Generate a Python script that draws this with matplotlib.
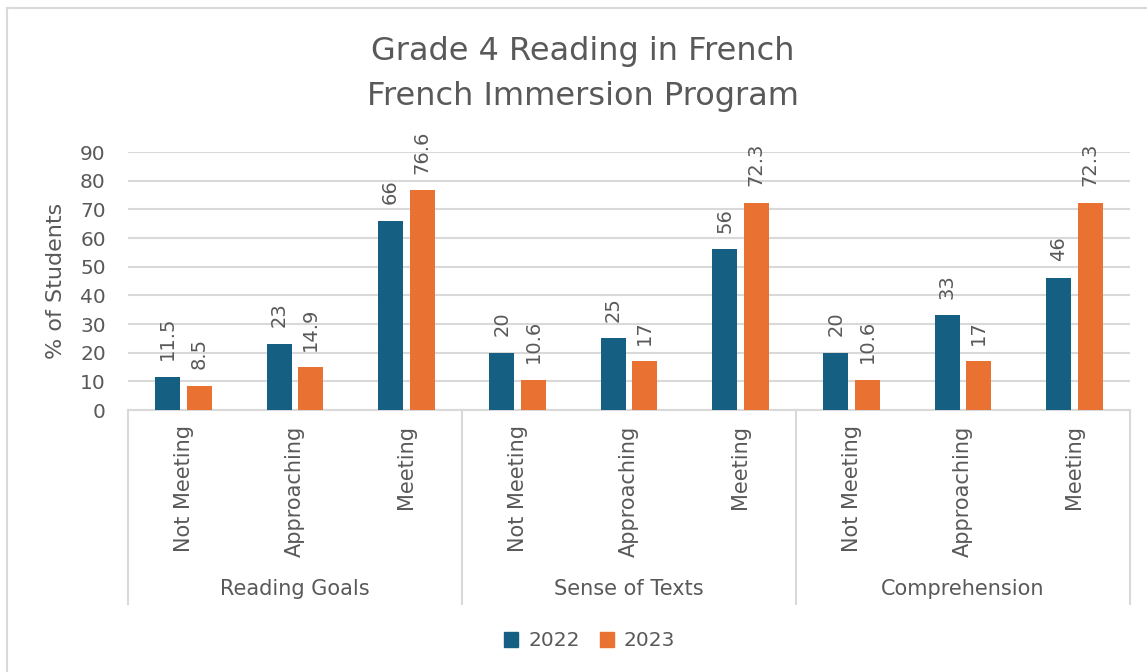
import matplotlib.pyplot as plt
from matplotlib.patches import Patch
from matplotlib.lines import Line2D
import numpy as np

# Data
groups = ['Reading Goals', 'Sense of Texts', 'Comprehension']
levels = ['Not Meeting', 'Approaching', 'Meeting']
years = ['2022', '2023']
vals_2022 = [11.5, 23, 66, 20, 25, 56, 20, 33, 46]
vals_2023 = [8.5, 14.9, 76.6, 10.6, 17, 72.3, 10.6, 17, 72.3]
yticks = [0, 10, 20, 30, 40, 50, 60, 70, 80, 90]

blue = '#156082'
orange = '#E97132'
txt = '#595959'
grid = '#D9D9D9'

plt.rcParams['font.family'] = 'DejaVu Sans'

W, H = 1147, 672
fig = plt.figure(figsize=(W / 100, H / 100), dpi=100)

# chart border (left and top edges visible)
fig.add_artist(Line2D([7 / W, 7 / W], [0, 1 - 8 / H], color=grid, lw=1.5))
fig.add_artist(Line2D([7 / W, 1], [1 - 8 / H, 1 - 8 / H], color=grid, lw=1.5))

ax_l, ax_r, ax_b, ax_t = 128, 1130, 410, 152
ax = fig.add_axes([ax_l / W, 1 - ax_b / H, (ax_r - ax_l) / W, (ax_b - ax_t) / H])

x = np.arange(len(vals_2022))
bw = 0.225
off = 0.142
b1 = ax.bar(x - off, vals_2022, bw, color=blue, zorder=3)
b2 = ax.bar(x + off, vals_2023, bw, color=orange, zorder=3)

for bars, vals in [(b1, vals_2022), (b2, vals_2023)]:
    for rect, v in zip(bars, vals):
        ax.annotate(f'{v:g}', (rect.get_x() + rect.get_width() / 2, v),
                    xytext=(0, 12), textcoords='offset points',
                    rotation=90, ha='center', va='bottom',
                    fontsize=14, color=txt, clip_on=False)

ax.set_xlim(-0.5, len(x) - 0.5)
ax.set_ylim(0, 90)
ax.set_yticks(yticks)
ax.yaxis.grid(True, color=grid, lw=1.5, zorder=0)
ax.set_axisbelow(True)
for s in ax.spines.values():
    s.set_visible(False)
ax.tick_params(axis='y', length=0, labelsize=14.5, labelcolor=txt, pad=16)

ax.set_xticks(x)
ax.set_xticklabels(levels * len(groups), rotation=90, fontsize=15, color=txt)
ax.tick_params(axis='x', length=0, pad=11)

ax.set_ylabel('% of Students', fontsize=16, color=txt, labelpad=10)

# category axis box
ax_h = ax_b - ax_t
bottom_y = -(604 - ax_b) / ax_h
ax.plot([-0.5, len(x) - 0.5], [0, 0], color=grid, lw=1.5, clip_on=False, zorder=2)
for sep in [-0.5, 2.5, 5.5, 8.5]:
    ax.plot([sep, sep], [0, bottom_y], transform=ax.get_xaxis_transform(),
            color=grid, lw=1.5, clip_on=False)
for i, g in enumerate(groups):
    ax.text(3 * i + 1, -(589 - ax_b) / ax_h, g, transform=ax.get_xaxis_transform(),
            ha='center', va='center', fontsize=15, color=txt)

fig.text(0.508, 1 - 74 / H, 'Grade 4 Reading in French\nFrench Immersion Program',
         ha='center', va='center', fontsize=23, color=txt, linespacing=1.55)

handles = [Patch(color=blue, label=years[0]), Patch(color=orange, label=years[1])]
fig.legend(handles=handles, loc='center', bbox_to_anchor=(0.514, 1 - 641 / H),
           ncol=2, frameon=False, fontsize=14.5, labelcolor=txt,
           handlelength=0.7, handleheight=0.7, handletextpad=0.5, columnspacing=1.0)

fig.savefig('out.png', dpi=100)
